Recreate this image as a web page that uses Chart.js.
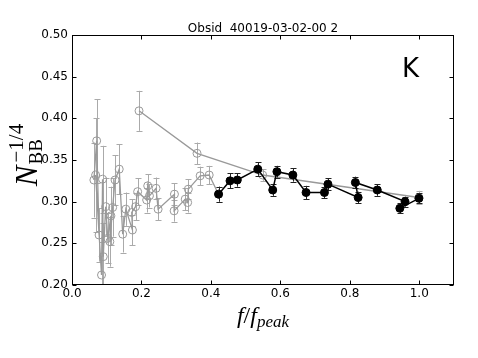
<!DOCTYPE html>
<html><head><meta charset="utf-8">
<script src="https://cdn.jsdelivr.net/npm/chart.js@4/dist/chart.umd.min.js"></script>
<style>html,body{margin:0;padding:0;background:#fff}</style>
</head><body>
<canvas id="c" width="478" height="358"></canvas>
<script>
const titleText = 'Obsid  40019-03-02-00 2';
const panelLabel = 'K';
const xTicks = [0.0, 0.2, 0.4, 0.6, 0.8, 1.0];
const xTickLabels = ['0.0', '0.2', '0.4', '0.6', '0.8', '1.0'];
const yTicks = [0.20, 0.25, 0.30, 0.35, 0.40, 0.45, 0.50];
const yTickLabels = ['0.20', '0.25', '0.30', '0.35', '0.40', '0.45', '0.50'];

// gray (open circles) series, null = break in the line
const grayF = [0.063,0.071,0.078,0.068,0.085,0.088,0.090,0.097,0.103,0.112,0.109,0.117,0.124,0.136,0.146,0.155,0.174,0.172,0.183,0.189,0.215,0.218,0.223,0.242,0.248,0.295,0.294,0.326,0.333,0.335,0.369,0.395,0.422,null,0.999,0.549,0.360,0.193];
const grayN = [0.326,0.373,0.260,0.332,0.212,0.327,0.234,0.294,0.256,0.283,0.252,0.293,0.326,0.339,0.261,0.291,0.266,0.287,0.294,0.312,0.302,0.319,0.307,0.316,0.291,0.309,0.289,0.303,0.299,0.315,0.331,0.332,0.309,null,0.305,0.332,0.358,0.409];
const grayErr = [0.045,0.050,0.032,0.068,0.040,0.040,0.040,0.035,0.030,0.035,0.030,0.035,0.030,0.030,0.022,0.020,0.018,0.016,0.016,0.016,0.015,0.014,0.014,0.013,0.013,0.013,0.013,0.013,0.012,0.012,0.011,0.011,0.009,null,0.008,0.007,0.013,0.024];

// black (filled) series
const blackF = [0.422,0.455,0.476,0.535,0.578,0.590,0.636,0.674,0.727,0.737,0.824,0.816,0.879,0.959,0.944,0.999];
const blackN = [0.309,0.325,0.326,0.339,0.314,0.336,0.332,0.311,0.311,0.321,0.305,0.323,0.314,0.300,0.292,0.304];
const blackErr = [0.009,0.009,0.008,0.008,0.007,0.007,0.008,0.008,0.007,0.007,0.007,0.007,0.007,0.006,0.006,0.006];

const pts = (xs, ys) => xs.map((v, i) => ({x: v, y: ys[i]}));

const errorBars = {
  id: 'errorBars',
  beforeDatasetDraw(chart, args) {
    const ds = chart.data.datasets[args.index];
    if (!ds.errors) return;
    const {ctx, chartArea: a, scales: {x, y}} = chart;
    ctx.save();
    ctx.beginPath();
    ctx.rect(a.left, a.top, a.right - a.left, a.bottom - a.top);
    ctx.clip();
    ctx.strokeStyle = ds.errColor;
    ctx.lineWidth = 1;
    ds.data.forEach((p, i) => {
      const e = ds.errors[i];
      if (p.y == null || e == null) return;
      const px = Math.round(x.getPixelForValue(p.x)) + 0.5;
      const y1 = y.getPixelForValue(p.y + e), y2 = y.getPixelForValue(p.y - e);
      ctx.beginPath();
      ctx.moveTo(px, y1); ctx.lineTo(px, y2);
      ctx.moveTo(px - 3, Math.round(y1) + 0.5); ctx.lineTo(px + 3, Math.round(y1) + 0.5);
      ctx.moveTo(px - 3, Math.round(y2) + 0.5); ctx.lineTo(px + 3, Math.round(y2) + 0.5);
      ctx.stroke();
    });
    ctx.restore();
  }
};

const frameAndLabels = {
  id: 'frameAndLabels',
  afterDraw(chart) {
    const {ctx, chartArea: a, scales: {x, y}} = chart;
    ctx.save();
    ctx.strokeStyle = '#000';
    ctx.lineWidth = 1;
    const L = Math.round(a.left) + 0.5, R = Math.round(a.right) - 0.5;
    const T = Math.round(a.top) + 0.5, B = Math.round(a.bottom) - 0.5;
    ctx.strokeRect(L, T, R - L, B - T);
    ctx.beginPath();
    xTicks.forEach(v => {
      const px = Math.round(x.getPixelForValue(v)) + 0.5;
      ctx.moveTo(px, B); ctx.lineTo(px, B - 4);
      ctx.moveTo(px, T); ctx.lineTo(px, T + 4);
    });
    yTicks.forEach(v => {
      const py = Math.round(y.getPixelForValue(v)) + 0.5;
      ctx.moveTo(L, py); ctx.lineTo(L + 4, py);
      ctx.moveTo(R, py); ctx.lineTo(R - 4, py);
    });
    ctx.stroke();

    ctx.fillStyle = '#000';
    ctx.textBaseline = 'alphabetic';

    // title
    ctx.font = '12px "DejaVu Sans"';
    ctx.textAlign = 'center';
    ctx.fillText(titleText, (a.left + a.right) / 2, 31.5);

    // panel label
    ctx.textAlign = 'left';
    ctx.font = '26px "DejaVu Sans"';
    ctx.fillText(panelLabel, 402, 77);

    // x axis label f/f_peak
    const big = 24, small = 17;
    const parts = [
      {t: 'f', f: `italic ${big}px "Liberation Serif"`, dy: 0},
      {t: '/', f: `${big}px "Liberation Serif"`, dy: 0},
      {t: 'f', f: `italic ${big}px "Liberation Serif"`, dy: 0},
      {t: 'peak', f: `italic ${small}px "Liberation Serif"`, dy: 4}
    ];
    let w = 0;
    parts.forEach(p => { ctx.font = p.f; p.w = ctx.measureText(p.t).width; w += p.w; });
    let cx = (a.left + a.right) / 2 - w / 2;
    parts.forEach(p => { ctx.font = p.f; ctx.fillText(p.t, cx, 323 + p.dy); cx += p.w; });

    // y axis label N_BB^{-1/4}
    ctx.translate(37, 155);
    ctx.rotate(-Math.PI / 2);
    ctx.font = `italic 31px "Liberation Serif"`;
    const nW = ctx.measureText('N').width;
    ctx.font = `19px "Liberation Serif"`;
    const subW = ctx.measureText('BB').width;
    ctx.font = `21px "Liberation Serif"`;
    const supW = ctx.measureText('\u22121/4').width;
    const tot = nW + 1 + Math.max(subW, supW + 2);
    let sx = -tot / 2;
    ctx.font = `italic 31px "Liberation Serif"`;
    ctx.fillText('N', sx, 0);
    sx += nW + 1;
    ctx.font = `19px "Liberation Serif"`;
    ctx.fillText('BB', sx, 5);
    ctx.font = `21px "Liberation Serif"`;
    ctx.fillText('\u22121/4', sx + 2, -14);
    ctx.restore();
  }
};

new Chart(document.getElementById('c'), {
  type: 'scatter',
  data: {
    datasets: [
      {
        label: 'black',
        data: pts(blackF, blackN),
        errors: blackErr,
        errColor: '#222',
        showLine: true,
        borderColor: '#000',
        borderWidth: 1.5,
        backgroundColor: '#000',
        pointBackgroundColor: '#000',
        pointBorderColor: '#000',
        pointRadius: 4,
        pointBorderWidth: 1,
        tension: 0,
        spanGaps: false
      },
      {
        label: 'gray',
        data: pts(grayF, grayN),
        errors: grayErr,
        errColor: '#aaaaaa',
        showLine: true,
        borderColor: '#999999',
        borderWidth: 1.3,
        backgroundColor: 'rgba(0,0,0,0)',
        pointBackgroundColor: 'rgba(0,0,0,0)',
        pointBorderColor: '#999999',
        pointRadius: 4,
        pointBorderWidth: 1,
        tension: 0,
        spanGaps: false
      }
    ]
  },
  options: {
    responsive: false,
    animation: false,
    devicePixelRatio: 1,
    layout: {padding: {left: 0, right: 24, top: 35, bottom: 0}},
    plugins: {
      legend: {display: false},
      tooltip: {enabled: false},
      title: {display: false}
    },
    scales: {
      x: {
        type: 'linear',
        min: 0, max: 1.1,
        grid: {display: false, drawTicks: false},
        border: {display: false},
        afterBuildTicks: s => { s.ticks = xTicks.map(v => ({value: v})); },
        afterFit: s => { s.height = 73; },
        ticks: {
          color: '#000',
          font: {family: 'DejaVu Sans', size: 12},
          padding: 2,
          maxRotation: 0,
          callback: (v, i) => xTickLabels[i]
        }
      },
      y: {
        type: 'linear',
        min: 0.2, max: 0.5,
        grid: {display: false, drawTicks: false},
        border: {display: false},
        afterBuildTicks: s => { s.ticks = yTicks.map(v => ({value: v})); },
        afterFit: s => { s.width = 72; },
        ticks: {
          color: '#000',
          font: {family: 'DejaVu Sans', size: 12},
          padding: 4,
          callback: (v, i) => yTickLabels[i]
        }
      }
    }
  },
  plugins: [errorBars, frameAndLabels]
});
</script>
</body></html>
